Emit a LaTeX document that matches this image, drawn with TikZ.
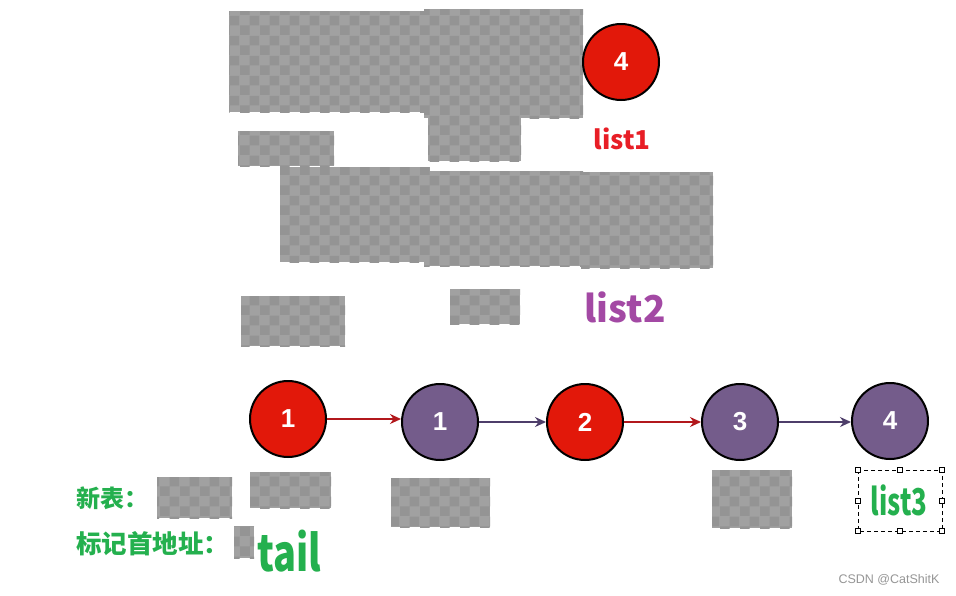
\documentclass[tikz,border=0pt]{standalone}
\usepackage{fontspec}
\setmainfont{Liberation Sans}
\newfontfamily\cjk{Noto Sans CJK SC}
\usetikzlibrary{arrows.meta,patterns.meta}
\definecolor{ckA}{RGB}{161,161,161}
\definecolor{ckB}{RGB}{148,148,148}
\definecolor{nred}{RGB}{226,24,10}
\definecolor{npur}{RGB}{116,92,139}
\definecolor{ared}{RGB}{178,24,28}
\definecolor{apur}{RGB}{78,62,106}
\definecolor{tred}{RGB}{232,30,38}
\definecolor{tpur}{RGB}{163,73,164}
\definecolor{tgreen}{RGB}{36,176,78}
\definecolor{tgray}{RGB}{150,150,150}
\tikzdeclarepattern{
  name=ckpat,
  type=uncolored,
  bottom left={(0pt,0pt)},
  top right={(20pt,20pt)},
  tile size={(20pt,20pt)},
  code={
    \pgfpathrectangle{\pgfpointorigin}{\pgfqpoint{10pt}{10pt}}
    \pgfpathrectangle{\pgfqpoint{10pt}{10pt}}{\pgfqpoint{10pt}{10pt}}
    \pgfusepath{fill}
  }
}
\begin{document}
\begin{tikzpicture}[x=1pt,y=-1pt,
  ck/.style={fill=ckA, postaction={pattern=ckpat, pattern color=ckB}},
  ball/.style={circle, draw=black, line width=2pt, minimum size=76pt, inner sep=0pt,
    text=white, font=\fontsize{26}{30}\selectfont\bfseries},
  redball/.style={ball, fill=nred},
  purball/.style={ball, fill=npur},
  redarrow/.style={draw=ared, line width=1.6pt, -{Stealth[length=11pt,width=10pt]}},
  purarrow/.style={draw=apur, line width=1.6pt, -{Stealth[length=11pt,width=10pt]}},
  handle/.style={draw=black, fill=white, line width=0.6pt, minimum size=5pt, inner sep=0pt, rectangle},
  greentext/.style={text=tgreen, inner sep=0pt}
]
\useasboundingbox (0,0) rectangle (956,595);
\fill[white] (0,0) rectangle (956,595);

% checkerboard (transparent) patches
\path[ck] (229,11) rectangle (424,112);
\path[ck] (424,9) rectangle (583,118);
\path[ck] (428,118) rectangle (521,161);
\path[ck] (238,131) rectangle (334,166);
\path[ck] (280,167) rectangle (430,262);
\path[ck] (424,171) rectangle (583,266);
\path[ck] (581,172) rectangle (713,268);
\path[ck] (241,296) rectangle (345,346);
\path[ck] (450,289) rectangle (520,324);
\path[ck] (712,470) rectangle (792,528);
\path[ck] (157,477) rectangle (232,518);
\path[ck] (250,472) rectangle (331,508);
\path[ck] (234,526) rectangle (254,558);
\path[ck] (391,478) rectangle (490,527);

% top node and labels
\node[redball] (top4) at (621,62) {4};
\node[text=tred, inner sep=0pt, font=\cjk\bfseries\fontsize{26}{30}\selectfont] (l1) at (622,139) {list1};
\node[text=tpur, inner sep=0pt, font=\cjk\bfseries\fontsize{37}{40}\selectfont] (l2) at (625,307) {list2};

% merged list
\node[redball] (n1) at (288,419) {1};
\node[purball] (n2) at (440,422) {1};
\node[redball] (n3) at (585,422) {2};
\node[purball] (n4) at (740,422) {3};
\node[purball] (n5) at (890,421) {4};

\draw[redarrow] (n1.east) -- (n1.east -| n2.west);
\draw[purarrow] (n2.east) -- (n2.east -| n3.west);
\draw[redarrow] (n3.east) -- (n3.east -| n4.west);
\draw[purarrow] (n4.east) -- (n4.east -| n5.west);

% list3 selection box
\coordinate (b1) at (858,470);
\coordinate (b2) at (942,531);
\draw[black, line width=0.7pt, dash pattern=on 4pt off 3pt] (b1) rectangle (b2);
\node[greentext, font=\cjk\bfseries\fontsize{37}{40}\selectfont] (l3) at (899,500) {\scalebox{0.7}[1]{list3}};
\foreach \hx/\hy [count=\i] in {858/470, 900/470, 942/470, 858/500.5, 942/500.5, 858/531, 900/531, 942/531}
  \node[handle] (h\i) at (\hx,\hy) {};

% left labels
\node[greentext, anchor=west, font=\cjk\bfseries\fontsize{24}{26}\selectfont] (xb) at (76,498) {新表：};
\node[greentext, anchor=west, font=\cjk\bfseries\fontsize{25.5}{28}\selectfont] (bj) at (76,544) {标记首地址：};
\node[greentext, font=\cjk\bfseries\fontsize{50}{54}\selectfont] (tail) at (289,551) {\scalebox{0.76}[1]{tail}};

% watermark
\node[text=tgray, inner sep=0pt, font=\fontsize{12.5}{14}\selectfont] (wm) at (889,580) {CSDN @CatShitK};
\end{tikzpicture}
\end{document}
